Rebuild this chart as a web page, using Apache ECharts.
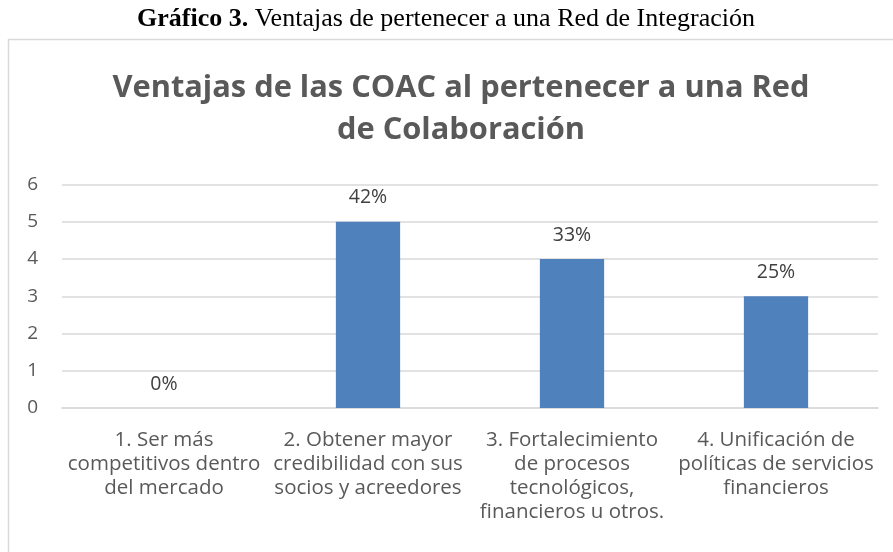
<!DOCTYPE html>
<html><head><meta charset="utf-8">
<script src="https://cdn.jsdelivr.net/npm/echarts@6/dist/echarts.min.js"></script>
<style>html,body{margin:0;padding:0;background:#fff}#c{width:893px;height:552px}</style>
</head><body><div id="c"></div>
<script>
const categories = [
  "1. Ser más\ncompetitivos dentro\ndel mercado",
  "2. Obtener mayor\ncredibilidad con sus\nsocios y acreedores",
  "3. Fortalecimiento\nde procesos\ntecnológicos,\nfinancieros u otros.",
  "4. Unificación de\npolíticas de servicios\nfinancieros"
];
const values = [0, 5, 4, 3];
const pctLabels = ["0%", "42%", "33%", "25%"];
const yTicks = [0, 1, 2, 3, 4, 5, 6];

const chart = echarts.init(document.getElementById('c'), null, {renderer: 'canvas'});
chart.setOption({
  animation: false,
  backgroundColor: '#fff',
  graphic: [
    {type: 'rect', shape: {x: 8.5, y: 39.5, width: 900, height: 600}, style: {fill: 'none', stroke: '#d9d9d9', lineWidth: 1.5}, z: -1},
    {type: 'text', x: 446, y: 19, style: {
      text: '{b|Gráfico 3.} Ventajas de pertenecer a una Red de Integración',
      rich: {b: {fontFamily: 'Liberation Serif', fontWeight: 'bold', fontSize: 26, fill: '#000'}},
      fontFamily: 'Liberation Serif', fontSize: 26, fill: '#000', align: 'center', verticalAlign: 'middle'}}
  ],
  title: {
    text: 'Ventajas de las COAC al pertenecer a una Red\nde Colaboración',
    left: 456, textAlign: 'center', top: 62,
    textStyle: {fontFamily: 'Open Sans', fontWeight: 'bold', fontSize: 30.8, color: '#595959', lineHeight: 42}
  },
  grid: {left: 62, right: 15, top: 184.5, bottom: 144, containLabel: false},
  xAxis: {
    type: 'category', data: categories,
    axisLine: {show: true, lineStyle: {color: '#d9d9d9', width: 1.5}},
    axisTick: {show: false},
    axisLabel: {interval: 0, color: '#595959', fontFamily: 'Open Sans', fontSize: 20.5, lineHeight: 24, margin: 20, align: 'center'}
  },
  yAxis: {
    type: 'value', min: 0, max: 6, interval: 1,
    axisLine: {show: false}, axisTick: {show: false},
    axisLabel: {color: '#595959', fontFamily: 'Open Sans', fontSize: 19, margin: 24,
      formatter: v => String(yTicks[v])},
    splitLine: {lineStyle: {color: '#d9d9d9', width: 1.5}}
  },
  series: [{
    type: 'bar', data: values, barWidth: '31.5%',
    itemStyle: {color: '#4f81bd'},
    label: {show: true, position: 'top', distance: 14, color: '#404040', fontFamily: 'Open Sans', fontSize: 19.5,
      formatter: p => pctLabels[p.dataIndex]}
  }]
});
</script></body></html>
